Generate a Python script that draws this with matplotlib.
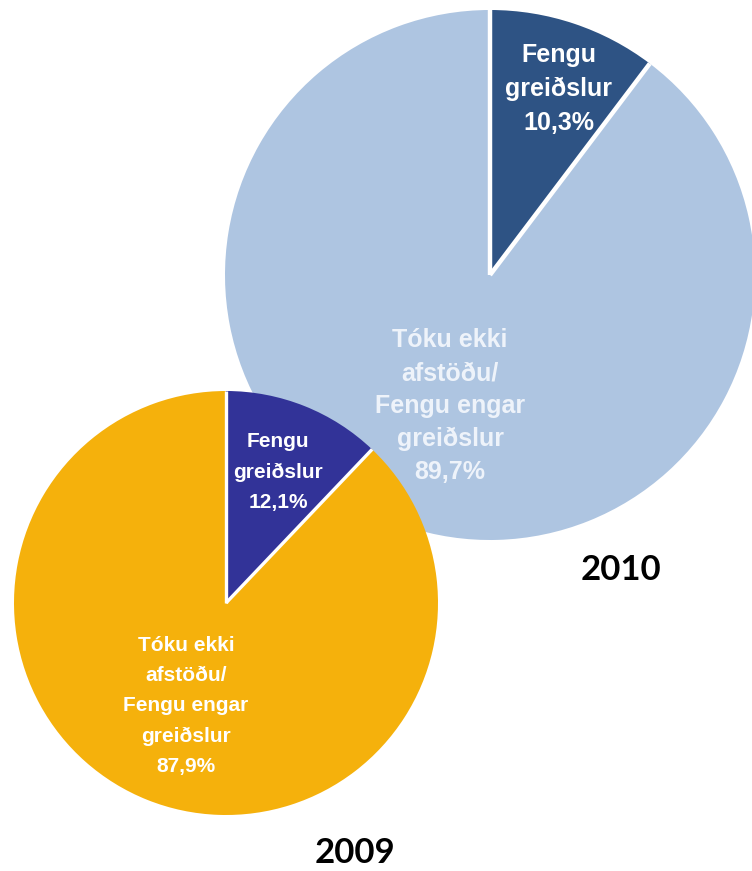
import numpy as np
import matplotlib
matplotlib.use("Agg")
import matplotlib.pyplot as plt

# ---- data ----
years = ["2010", "2009"]
fengu = [10.3, 12.1]            # Fengu greiðslur (%)
engar = [89.7, 87.9]            # Tóku ekki afstöðu / Fengu engar greiðslur (%)
label_small = "Fengu\ngreiðslur"
label_big = "Tóku ekki\nafstöðu/\nFengu engar\ngreiðslur"

# ---- styling ----
W, H = 752, 871
fig = plt.figure(figsize=(W / 100, H / 100), dpi=100)
ax = fig.add_axes([0, 0, 1, 1])

specs = {
    "2010": dict(center=(490, H - 275), r=265, colors=["#2E5384", "#AEC5E1"],
                 fs=18, sep_lw=3.2, txt_col=["white", "#EEF3FA"],
                 ls=(1.53, 1.46),
                 small_pos=(559, H - 89), big_pos=(450, H - 406),
                 year_pos=(621, H - 570)),
    "2009": dict(center=(226, H - 603), r=212, colors=["#323398", "#F5B10C"],
                 fs=15, sep_lw=2.4, txt_col=["white", "white"],
                 ls=(1.75, 1.75),
                 small_pos=(278, H - 472), big_pos=(186, H - 706),
                 year_pos=(355, H - 853)),
}

for i, yr in enumerate(years):
    s = specs[yr]
    vals = [fengu[i], engar[i]]
    ax.pie(vals, colors=s["colors"], startangle=90, counterclock=False,
           center=s["center"], radius=s["r"],
           wedgeprops=dict(linewidth=0))
    # white separators between slices, from the data angles
    cum = np.cumsum([0] + vals) / sum(vals)
    cx, cy = s["center"]
    for c in cum[:-1]:
        th = np.deg2rad(90 - 360 * c)
        ax.plot([cx, cx + s["r"] * np.cos(th)], [cy, cy + s["r"] * np.sin(th)],
                color="white", lw=s["sep_lw"], solid_capstyle="butt", zorder=5)
    ax.text(*s["small_pos"], f"{label_small}\n{fengu[i]:.1f}%".replace(".", ","),
            ha="center", va="center", fontsize=s["fs"], fontweight="bold",
            family="Liberation Sans", color=s["txt_col"][0], linespacing=s["ls"][0], zorder=6)
    ax.text(*s["big_pos"], f"{label_big}\n{engar[i]:.1f}%".replace(".", ","),
            ha="center", va="center", fontsize=s["fs"], fontweight="bold",
            family="Liberation Sans", color=s["txt_col"][1], linespacing=s["ls"][1], zorder=6)
    ax.text(*s["year_pos"], yr, ha="center", va="center", fontsize=25,
            fontweight="bold", family="Lato", color="black", zorder=6)

ax.set_xlim(0, W)
ax.set_ylim(0, H)
ax.set_aspect("equal")
ax.axis("off")
fig.savefig("out.png", dpi=100)
